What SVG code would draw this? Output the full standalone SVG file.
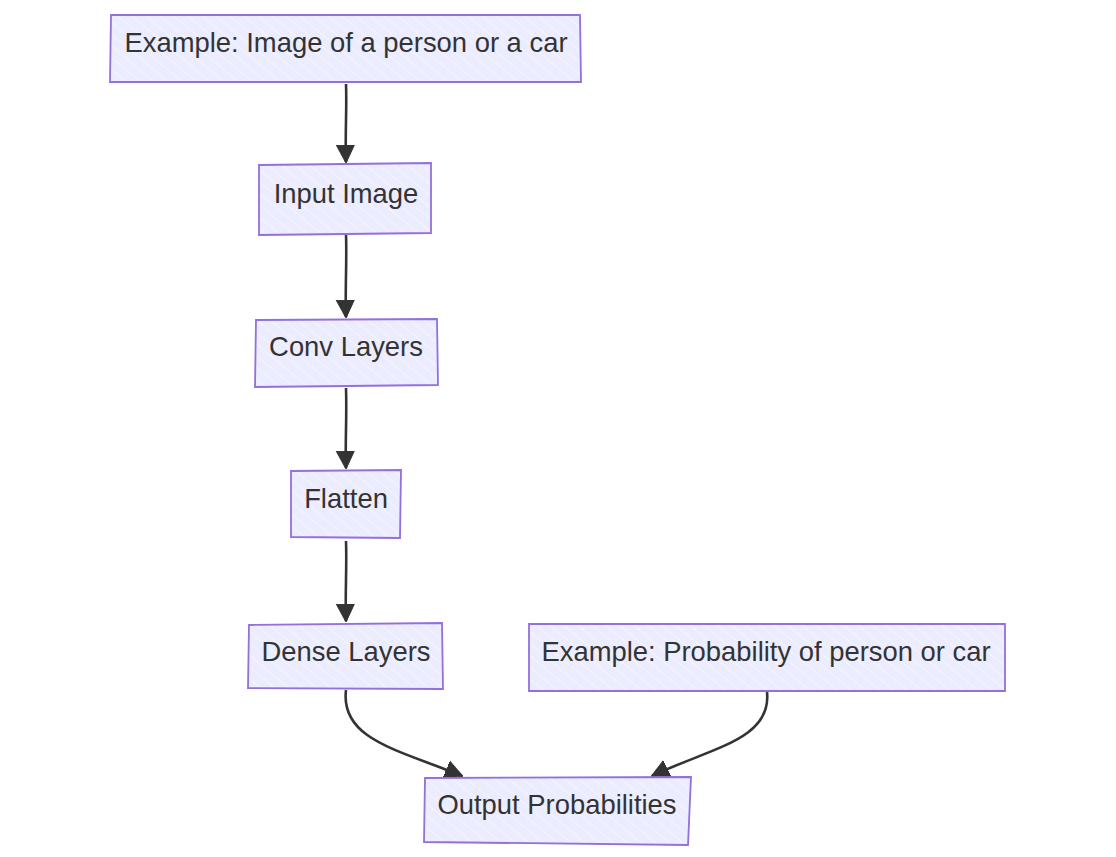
<svg xmlns="http://www.w3.org/2000/svg" width="1116" height="857" viewBox="0 0 1116 857">
<style>
.box{fill:url(#hatch);stroke:#9370DB;stroke-width:1.8}
.lbl{font-family:"Liberation Sans",Arial,sans-serif;font-size:27.4px;fill:#333;text-anchor:middle;dominant-baseline:central}
.edge{fill:none;stroke:#333;stroke-width:2.6}
</style>
<defs>
<pattern id="hatch" patternUnits="userSpaceOnUse" width="9" height="9" patternTransform="rotate(-50)">
<rect width="9" height="9" fill="#ECECFF"/>
<line x1="0" y1="0" x2="0" y2="9" stroke="#ffffff" stroke-width="1.2" opacity="0.7"/>
</pattern>
<marker id="arr" viewBox="0 0 18 20" refX="17" refY="10" markerWidth="18" markerHeight="20" markerUnits="userSpaceOnUse" orient="auto">
<path d="M0,1 L18,10 L0,19 z" fill="#333" stroke="#333" stroke-width="1"/>
</marker>
</defs>
<rect width="1116" height="857" fill="#ffffff"/>
<g id="connectors">
<path class="edge" d="M346,84 C347,110 345,130 346,162" marker-end="url(#arr)"/>
<path class="edge" d="M346,235 C347,260 345,290 346,317" marker-end="url(#arr)"/>
<path class="edge" d="M346,388 C347,420 345,440 346,468" marker-end="url(#arr)"/>
<path class="edge" d="M346,541 C347,570 345,590 346,621" marker-end="url(#arr)"/>
<path class="edge" d="M346,690 C340,740 400,750 462,776" marker-end="url(#arr)"/>
<path class="edge" d="M767,692 C772,740 710,748 652,776" marker-end="url(#arr)"/>
</g>
<g id="n1"><path class="box" d="M111,15 L580,15 L581,82 L110,82 Z"/><text class="lbl" x="346" y="42">Example: Image of a person or a car</text></g>
<g id="n2"><path class="box" d="M259,165 L431,163 L431,233 L259,235 Z"/><text class="lbl" x="346" y="193">Input Image</text></g>
<g id="n3"><path class="box" d="M256,320 L437,319 L438,385 L255,387 Z"/><text class="lbl" x="346" y="346">Conv Layers</text></g>
<g id="n4"><path class="box" d="M291,471 L401,470 L400,538 L291,537 Z"/><text class="lbl" x="346" y="498">Flatten</text></g>
<g id="n5"><path class="box" d="M249,625 L442,623 L443,689 L248,688 Z"/><text class="lbl" x="346" y="651">Dense Layers</text></g>
<g id="n6"><path class="box" d="M529,624 L1005,624 L1005,691 L529,691 Z"/><text class="lbl" x="766" y="651">Example: Probability of person or car</text></g>
<g id="n7"><path class="box" d="M425,778 L691,777 L688,845 L424,842 Z"/><text class="lbl" x="557" y="804">Output Probabilities</text></g>
</svg>
